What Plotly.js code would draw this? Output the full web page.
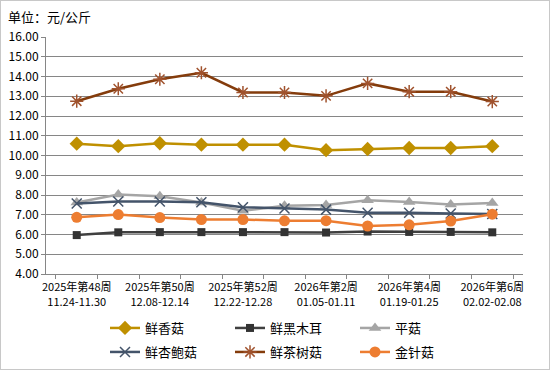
<!DOCTYPE html>
<html>
<head>
<meta charset="utf-8">
<script src="https://cdn.plot.ly/plotly-3.0.1.min.js"></script>
<style>
html,body{margin:0;padding:0;background:#fff;}
#chart{width:550px;height:370px;box-sizing:border-box;border:1px solid #c8c8c8;}
</style>
</head>
<body>
<div id="chart"></div>
<script>
var weeks = ["2025年第48周","2025年第49周","2025年第50周","2025年第51周","2025年第52周","2026年第1周","2026年第2周","2026年第3周","2026年第4周","2026年第5周","2026年第6周"];
var dates = ["11.24-11.30","12.01-12.07","12.08-12.14","12.15-12.21","12.22-12.28","12.29-01.04","01.05-01.11","01.12-01.18","01.19-01.25","01.26-02.01","02.02-02.08"];
var showLabel = [true,false,true,false,true,false,true,false,true,false,true];

var shiitake  = [10.60,10.47,10.62,10.55,10.55,10.55,10.27,10.33,10.38,10.38,10.47];
var blackFungus = [5.97,6.11,6.12,6.12,6.12,6.12,6.10,6.15,6.13,6.13,6.11];
var oyster    = [7.62,8.02,7.94,7.62,7.20,7.45,7.50,7.73,7.65,7.52,7.60];
var eryngii   = [7.57,7.67,7.67,7.63,7.38,7.32,7.26,7.10,7.10,7.06,7.04];
var teaTree   = [12.75,13.38,13.86,14.19,13.19,13.19,13.02,13.65,13.23,13.23,12.73];
var enoki     = [6.87,7.01,6.86,6.76,6.76,6.69,6.70,6.43,6.49,6.68,7.03];

var cats = weeks.map(function(w,i){return w+"<br>"+dates[i];});
var tickText = cats.map(function(c,i){return showLabel[i]?c:" ";});

function tr(name, y, color, symbol, msize, mcolor, mline, leg){
  return {
    x: cats, y: y, name: name, type: 'scatter', mode: 'lines+markers', legend: leg,
    line: {color: color, width: 2.5},
    marker: {symbol: symbol, size: msize, color: mcolor || color,
             line: {color: mcolor || color, width: mline || 0}}
  };
}

var data = [
  tr('鲜香菇', shiitake, '#BF9000', 'diamond', 11, null, 0, 'legend'),
  tr('鲜黑木耳', blackFungus, '#404040', 'square', 8, '#333333', 0, 'legend'),
  tr('平菇', oyster, '#A5A5A5', 'triangle-up', 11, null, 0, 'legend'),
  tr('鲜杏鲍菇', eryngii, '#44546A', 'x-thin-open', 10, '#44546A', 1.5, 'legend2'),
  tr('鲜茶树菇', teaTree, '#843C0C', 'asterisk-open', 11, '#A0522D', 1.5, 'legend2'),
  tr('金针菇', enoki, '#ED7D31', 'circle', 11, null, 0, 'legend2')
];

function leg(yPix){
  return {orientation: 'h', xref: 'container', yref: 'container',
          x: 104/548, xanchor: 'left', y: 1 - yPix/368, yanchor: 'middle',
          entrywidth: 80, entrywidthmode: 'pixels', font: {size: 13},
          itemwidth: 30, bgcolor: 'rgba(0,0,0,0)'};
}

var layout = {
  width: 548, height: 368,
  margin: {l: 45, r: 26, t: 36, b: 95, pad: 0, autoexpand: false},
  paper_bgcolor: '#ffffff', plot_bgcolor: '#ffffff',
  font: {family: '"Noto Sans CJK SC", "Noto Sans", sans-serif', size: 11, color: '#000000'},
  title: {text: '单位：元/公斤', x: 7/548, xanchor: 'left', xref: 'container',
          y: 1 - 16/368, yanchor: 'middle', yref: 'container',
          font: {size: 13, color: '#000000'}},
  showlegend: true,
  legend: leg(327),
  legend2: leg(351),
  xaxis: {type: 'category', tickmode: 'array', tickvals: cats, ticktext: tickText,
          ticks: 'outside', tickson: 'boundaries', ticklen: 4, tickcolor: '#868686',
          showline: true, linecolor: '#868686', linewidth: 1, showgrid: false,
          tickangle: 0, tickfont: {size: 11}, ticklabelstandoff: 3, automargin: false},
  yaxis: {range: [4, 16], dtick: 1, tickformat: '.2f', ticks: 'outside', ticklen: 4,
          tickcolor: '#868686', showline: true, linecolor: '#868686', linewidth: 1,
          gridcolor: '#868686', gridwidth: 1, zeroline: false, tickfont: {size: 12},
          automargin: false}
};

Plotly.newPlot('chart', data, layout, {displayModeBar: false, staticPlot: true});
</script>
</body>
</html>
